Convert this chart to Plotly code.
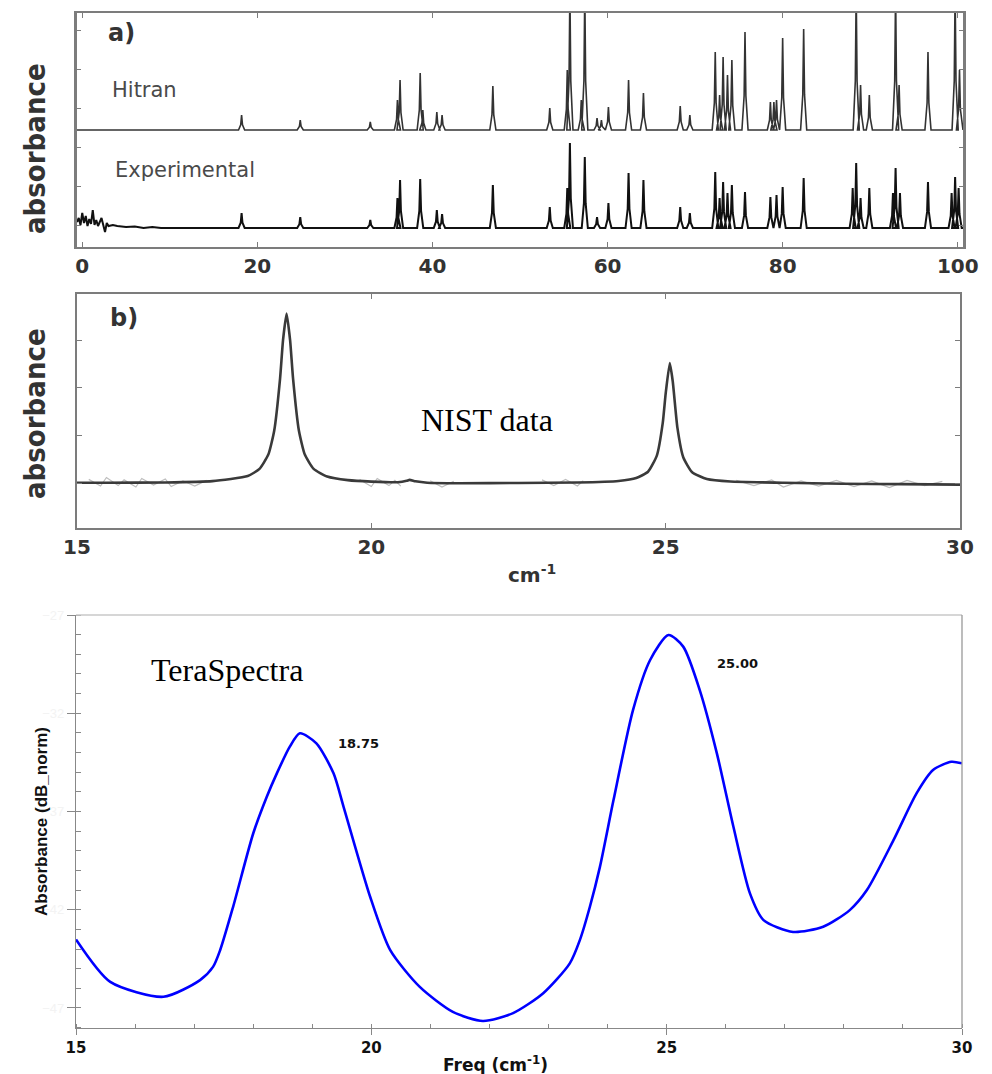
import plotly.graph_objects as go

W, H = 992, 1074

# ---------------- Panel a data (peak positions cm-1, heights a.u.) -------------
hitran_pos = [18.2, 24.9, 32.9, 36.0, 36.3, 38.6, 38.9, 40.5, 41.1, 46.9, 53.4,
              55.4, 55.7, 57.0, 57.4, 58.8, 59.3, 60.1, 62.4, 64.1, 68.3, 69.4,
              72.3, 72.8, 73.2, 73.7, 74.2, 75.7, 78.6, 79.0, 79.3, 80.0, 82.4,
              88.4, 88.9, 89.9, 92.9, 93.3, 96.6, 99.7, 100.2]
hitran_h = [0.15, 0.10, 0.08, 0.30, 0.50, 0.57, 0.20, 0.18, 0.15, 0.44, 0.22,
            0.60, 1.40, 0.30, 1.40, 0.12, 0.10, 0.23, 0.50, 0.37, 0.24, 0.15,
            0.78, 0.35, 0.73, 0.55, 0.70, 0.98, 0.28, 0.28, 0.30, 0.92, 1.01,
            1.40, 0.45, 0.35, 1.40, 0.45, 0.78, 1.40, 0.60]
exp_pos = [18.2, 24.9, 32.9, 36.0, 36.3, 38.6, 40.5, 41.1, 46.9, 53.4, 55.4,
           55.7, 57.4, 58.8, 60.1, 62.4, 64.1, 68.3, 69.4, 72.3, 72.8, 73.2,
           73.7, 74.2, 75.7, 78.6, 79.3, 80.0, 82.4, 88.0, 88.4, 88.9, 89.9,
           92.6, 92.9, 93.4, 96.6, 99.3, 99.7, 100.1]
exp_h = [0.15, 0.11, 0.08, 0.30, 0.48, 0.49, 0.18, 0.14, 0.43, 0.21, 0.40,
         0.85, 0.71, 0.11, 0.25, 0.55, 0.48, 0.21, 0.15, 0.56, 0.30, 0.46,
         0.35, 0.43, 0.36, 0.31, 0.33, 0.41, 0.50, 0.40, 0.65, 0.30, 0.40,
         0.35, 0.60, 0.35, 0.46, 0.35, 0.51, 0.40]
exp_noise_x = [-0.6, -0.4, -0.2, 0.0, 0.2, 0.4, 0.6, 0.8, 1.0, 1.2, 1.4, 1.6, 1.8,
               2.0, 2.2, 2.4, 2.6, 2.8, 3.0, 3.5, 4.0, 5.0, 6.0, 7.0, 8.0, 9.0, 10.0]
exp_noise_y = [0.06, 0.10, 0.03, 0.15, 0.05, 0.12, 0.02, 0.09, 0.04, 0.18, 0.03, 0.08,
               0.02, 0.06, 0.10, 0.03, -0.04, 0.05, 0.02, 0.03, 0.02, 0.01, 0.015,
               0.0, 0.01, 0.0, 0.0]
hitran_offset = 1.17
exp_offset = 0.19
a_ticks = [0, 20, 40, 60, 80, 100]

# ---------------- Panel b data (NIST) -----------------------------------------
nist_x = [15.0, 15.5, 16.5, 17.3, 17.9, 18.1, 18.25, 18.35, 18.45, 18.5, 18.56,
          18.62, 18.67, 18.77, 18.87, 19.02, 19.25, 19.6, 20.0, 20.45, 20.6, 20.65,
          20.75, 20.95, 21.5, 22.5, 23.5, 24.2, 24.5, 24.7, 24.85, 24.95, 25.0,
          25.07, 25.12, 25.2, 25.3, 25.45, 25.7, 26.1, 27.0, 28.0, 29.0, 30.0]
nist_y = [0.01, 0.01, 0.016, 0.043, 0.15, 0.30, 0.60, 1.10, 2.2, 3.0, 3.56,
          3.0, 2.2, 1.10, 0.60, 0.30, 0.14, 0.064, 0.033, 0.02, 0.05, 0.07,
          0.04, 0.01, 0.0, 0.005, 0.015, 0.047, 0.107, 0.24, 0.58, 1.26, 1.88,
          2.52, 2.14, 1.16, 0.54, 0.23, 0.088, 0.035, 0.01, -0.01, -0.02, -0.03]
nist_noise_x = [15.2, 15.4, 15.5, 15.7, 15.8, 16.0, 16.1, 16.3, 16.5, 16.6, 16.8, 17.0, 17.2, None,
                19.8, 20.0, 20.1, 20.3, 20.4, 20.5, None, 21.0, 21.2, 21.4, None,
                22.9, 23.1, 23.3, 23.5, 23.6, None,
                26.2, 26.5, 26.8, 27.0, 27.3, 27.6, 27.9, 28.2, 28.5, 28.8, 29.1, 29.4, 29.7]
nist_noise_y = [0.08, -0.06, 0.12, -0.05, 0.07, -0.08, 0.10, -0.04, 0.09, -0.07, 0.05, -0.06, 0.06, None,
                0.08, -0.07, 0.10, -0.05, 0.06, -0.06, None, 0.05, -0.08, 0.04, None,
                0.07, -0.05, 0.08, -0.06, 0.05, None,
                0.06, -0.05, 0.07, -0.08, 0.05, -0.06, 0.06, -0.07, 0.05, -0.09, 0.06, -0.05, 0.04]
b_ticks = [15, 20, 25, 30]

# ---------------- Panel c data (TeraSpectra) ----------------------------------
tera_x = [15.0, 15.58, 16.48, 17.10, 17.32, 17.44, 17.66, 18.00, 18.23, 18.40, 18.62,
          18.79, 19.07, 19.36, 19.53, 19.98, 20.32, 20.82, 21.38, 21.89, 22.40, 22.91,
          23.36, 23.53, 23.70, 23.87, 24.10, 24.43, 24.72, 25.03, 25.28, 25.56, 25.85,
          26.13, 26.41, 26.64, 27.14, 27.65, 28.10, 28.39, 28.84, 29.23, 29.51,
          29.82, 30.0]
tera_y = [-43.51, -45.67, -46.43, -45.58, -44.91, -44.06, -41.85, -38.12, -36.25,
          -35.06, -33.70, -33.02, -33.53, -35.06, -36.76, -41.34, -44.06, -45.93,
          -47.20, -47.66, -47.26, -46.25, -44.73, -43.55, -41.85, -39.82, -36.42,
          -31.84, -29.29, -28.02, -28.61, -30.82, -34.04, -37.78, -41.17, -42.53,
          -43.13, -42.87, -42.02, -41.00, -38.46, -36.08, -34.89, -34.47, -34.55]
peak_labels = ["18.75", "25.00"]
c_ticks = [15, 20, 25, 30]
c_yticks = [-47, -42, -37, -32, -27]


def spectrum(pos, hts, offset, x_start, x_end, lead_x=None, lead_y=None):
    xs, ys = [], []
    if lead_x:
        xs += list(lead_x)
        ys += [offset + v for v in lead_y]
    else:
        xs.append(x_start)
        ys.append(offset)
    for p, h in sorted(zip(pos, hts)):
        xs += [p - 0.35, p - 0.1, p, p + 0.1, p + 0.35]
        ys += [offset, offset + 0.35 * h, offset + h, offset + 0.35 * h, offset]
    xs.append(x_end)
    ys.append(offset)
    return xs, ys


def px(x):
    return x / W


def py(y):
    return 1 - y / H


fig = go.Figure()

hx, hy = spectrum(hitran_pos, hitran_h, hitran_offset, -0.6, 100.6)
ex, ey = spectrum(exp_pos, exp_h, exp_offset, -0.6, 100.6, exp_noise_x, exp_noise_y)
fig.add_trace(go.Scatter(x=hx, y=hy, mode="lines", line=dict(color="#333333", width=1.6),
                         xaxis="x", yaxis="y", showlegend=False))
fig.add_trace(go.Scatter(x=ex, y=ey, mode="lines", line=dict(color="#111111", width=2.0),
                         xaxis="x", yaxis="y", showlegend=False))

fig.add_trace(go.Scatter(x=nist_noise_x, y=nist_noise_y, mode="lines",
                         line=dict(color="#bdbdbd", width=1.2), connectgaps=False,
                         xaxis="x2", yaxis="y2", showlegend=False))
fig.add_trace(go.Scatter(x=nist_x, y=nist_y, mode="lines",
                         line=dict(color="#3a3a3a", width=2.6, shape="spline", smoothing=0.5),
                         xaxis="x2", yaxis="y2", showlegend=False))

fig.add_trace(go.Scatter(x=tera_x, y=tera_y, mode="lines",
                         line=dict(color="#0000ff", width=2.6, shape="spline", smoothing=0.7),
                         xaxis="x3", yaxis="y3", showlegend=False))

frame_col = "#7c7c7c"
bold_num = dict(family="DejaVu Sans", size=20, color="#333333", weight="bold")

fig.update_layout(
    width=W, height=H, margin=dict(l=0, r=0, t=0, b=0, autoexpand=False),
    paper_bgcolor="white", plot_bgcolor="white",
    xaxis=dict(domain=[px(77), px(963)], anchor="y", range=[-0.6, 100.6], tickvals=a_ticks,
               ticks="inside", ticklen=5, tickcolor=frame_col, showline=True, linecolor=frame_col,
               linewidth=2, mirror="ticks", showgrid=False, zeroline=False, tickfont=bold_num,
               automargin=False),
    yaxis=dict(domain=[py(247), py(13)], anchor="x", range=[0, 2.34], tick0=0.22, dtick=0.39,
               ticks="inside", ticklen=4, tickcolor=frame_col, showline=True, linecolor=frame_col,
               linewidth=2.5, mirror="ticks", showgrid=False, zeroline=False, showticklabels=False,
               automargin=False),
    xaxis2=dict(domain=[px(77), px(960)], anchor="y2", range=[15, 30], tickvals=b_ticks,
                ticks="inside", ticklen=5, tickcolor=frame_col, showline=True, linecolor=frame_col,
                linewidth=2, mirror="ticks", showgrid=False, zeroline=False, tickfont=bold_num,
                automargin=False),
    yaxis2=dict(domain=[py(528), py(294)], anchor="x2", range=[-0.94, 3.97], tickvals=[0, 1, 2, 3],
                ticks="inside", ticklen=5, tickcolor=frame_col, showline=True, linecolor=frame_col,
                linewidth=2, mirror="ticks", showgrid=False, zeroline=False, showticklabels=False,
                automargin=False),
    xaxis3=dict(domain=[px(76), px(962)], anchor="y3", range=[15, 30], tickvals=c_ticks,
                ticks="outside", ticklen=6, tickcolor="#888888", showline=True, linecolor="#888888",
                linewidth=1.3, showgrid=False, zeroline=False, automargin=False,
                minor=dict(dtick=1, tick0=15, ticks="inside", ticklen=4, tickcolor="#888888"),
                tickfont=dict(family="DejaVu Sans", size=15, color="#111111", weight="bold")),
    yaxis3=dict(domain=[py(1028), py(615)], anchor="x3", range=[-48.02, -27], tickvals=c_yticks,
                ticks="outside", ticklen=8, tickcolor="#888888", showline=True, linecolor="#888888",
                linewidth=1.3, showgrid=False, zeroline=False, automargin=False,
                minor=dict(dtick=1, tick0=-47, ticks="inside", ticklen=5, tickcolor="#888888"),
                tickfont=dict(family="Liberation Sans", size=13, color="#f3f3f3")),
)

fig.add_shape(type="line", xref="paper", yref="paper", x0=px(76), x1=px(962), y0=py(615), y1=py(615),
              line=dict(color="#c8c8c8", width=1.5))
fig.add_shape(type="line", xref="paper", yref="paper", x0=px(962), x1=px(962), y0=py(1028), y1=py(615),
              line=dict(color="#999999", width=1.3))


def ann(text, x, y, font, angle=0, xanchor="center"):
    fig.add_annotation(text=text, x=px(x), y=py(y), xref="paper", yref="paper", showarrow=False,
                       font=font, textangle=angle, xanchor=xanchor, yanchor="middle")


narrow = dict(family="Liberation Sans Narrow, DejaVu Sans Condensed, Arial Narrow, sans-serif",
              size=29, color="#333333", weight="bold")
ann("absorbance", 35, 149, narrow, -90)
ann("absorbance", 35, 414, narrow, -90)
ann("a)", 121, 33, dict(family="DejaVu Sans", size=24, color="#333333", weight="bold"))
ann("b)", 124, 318, dict(family="DejaVu Sans", size=24, color="#333333", weight="bold"))
ann("Hitran", 110, 90, dict(family="DejaVu Sans", size=21, color="#4a4a4a"), xanchor="left")
ann("Experimental", 113, 170, dict(family="DejaVu Sans", size=21, color="#4a4a4a"), xanchor="left")
ann("NIST data", 487, 420, dict(family="Liberation Serif", size=32, color="#000000"))
ann("cm<sup>-1</sup>", 532, 574, dict(family="DejaVu Sans", size=20, color="#333333", weight="bold"))
ann("TeraSpectra", 227, 670, dict(family="Liberation Serif", size=32, color="#000000"))
ann(peak_labels[0], 358, 743, dict(family="DejaVu Sans", size=13, color="#111111", weight="bold"))
ann(peak_labels[1], 737, 663, dict(family="DejaVu Sans", size=13, color="#111111", weight="bold"))
ann("Absorbance (dB_norm)", 41, 822, dict(family="Liberation Sans", size=17, color="#111111", weight="bold"), -90)
ann("Freq (cm<sup>-1</sup>)", 495, 1064, dict(family="DejaVu Sans", size=17, color="#111111", weight="bold"))

fig.write_html("out.html", config={"displayModeBar": False},
               post_script="document.body.style.margin='0px';document.body.style.padding='0px';")
